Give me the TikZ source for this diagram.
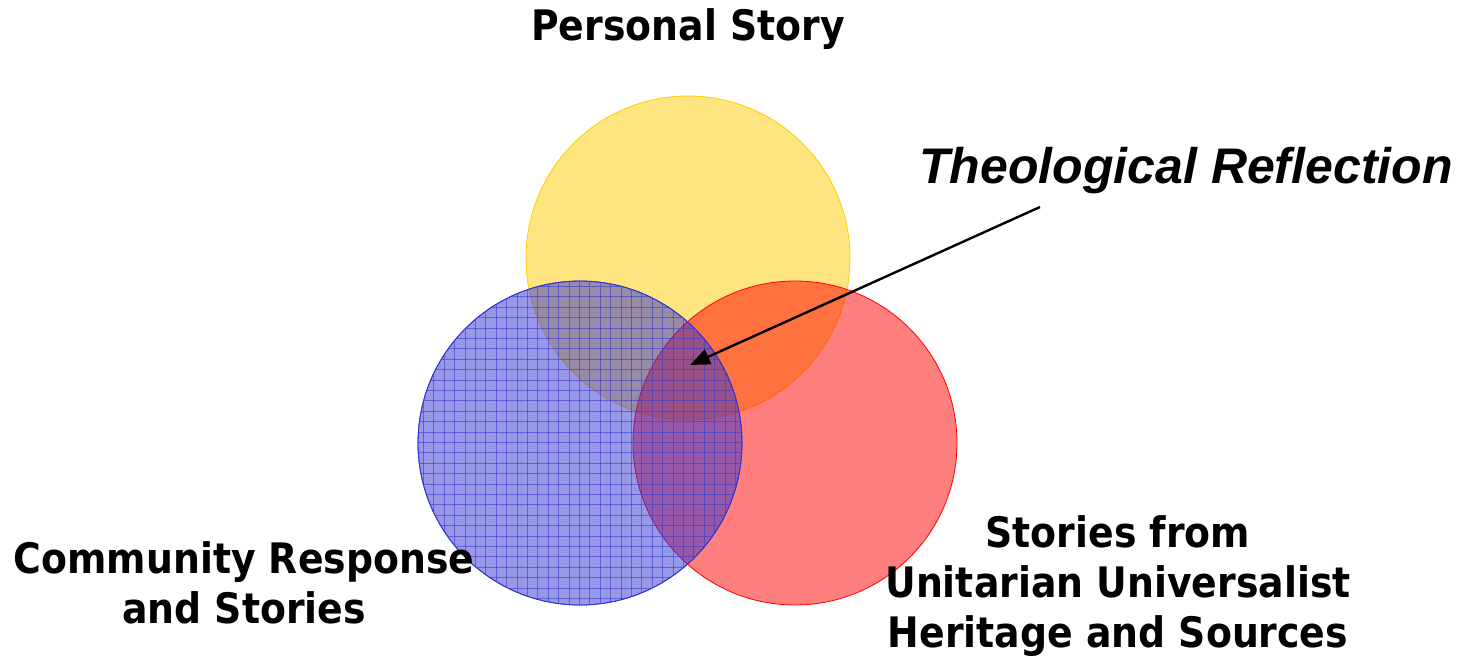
\documentclass[tikz,border=0pt]{standalone}
\usepackage{fontspec}
\setmainfont{DejaVu Sans}[FakeStretch=0.9]
\newfontfamily\theofont{Liberation Sans}
\usepackage{xcolor}
\usetikzlibrary{arrows.meta,positioning}
\definecolor{vyellow}{RGB}{255,204,0}
\definecolor{vred}{RGB}{255,0,0}
\definecolor{vblue}{RGB}{50,50,210}
\definecolor{vgrid}{RGB}{60,60,200}
\tikzset{
  venn/.style={circle, minimum size=324pt, inner sep=0pt, fill opacity=0.5, line width=0.8pt},
  label/.style={font=\fontsize{42}{50}\selectfont\bfseries, align=center, anchor=base}
}

\begin{document}
\begin{tikzpicture}[x=1pt, y=-1pt]
    \useasboundingbox (0,0) rectangle (1470,658);

    % Circles
    \node[venn, fill=vyellow, draw=vyellow] (personal) at (688,258) {};
    \node[venn, fill=vred, draw=vred] (heritage) at (795,443) {};
    \node[venn, fill=vblue, draw=vblue] (community) at (580,443) {};

    % Grid on the blue circle
    \begin{scope}
        \clip (community.center) circle (162);
        \foreach \i in {0,...,32} {
            \draw[vgrid, line width=0.9pt, opacity=0.6] (413+10.4*\i,275) -- (413+10.4*\i,615);
            \draw[vgrid, line width=0.9pt, opacity=0.6] (410,276+10.4*\i) -- (750,276+10.4*\i);
        }
    \end{scope}
    \draw[vblue, line width=0.8pt] (community.center) circle (162);

    % Labels
    \node[label] (personallbl) at (688,41) {Personal Story};
    \node[label] (communitylbl) at (244,623) {Community Response\\and Stories};
    \node[label] (heritagelbl) at (1118,647) {Stories from\\Unitarian Universalist\\Heritage and Sources};
    \node[anchor=base, font=\theofont\fontsize{50}{60}\selectfont\bfseries\itshape] (theo) at (1186,183) {Theological Reflection};

    % Arrow
    \coordinate (tail) at (1040,207);
    \coordinate (middle) at (690,365);
    \draw[-{Triangle[length=20pt, width=16pt]}, line width=2.4pt] (tail) -- (middle);
\end{tikzpicture}
\end{document}
